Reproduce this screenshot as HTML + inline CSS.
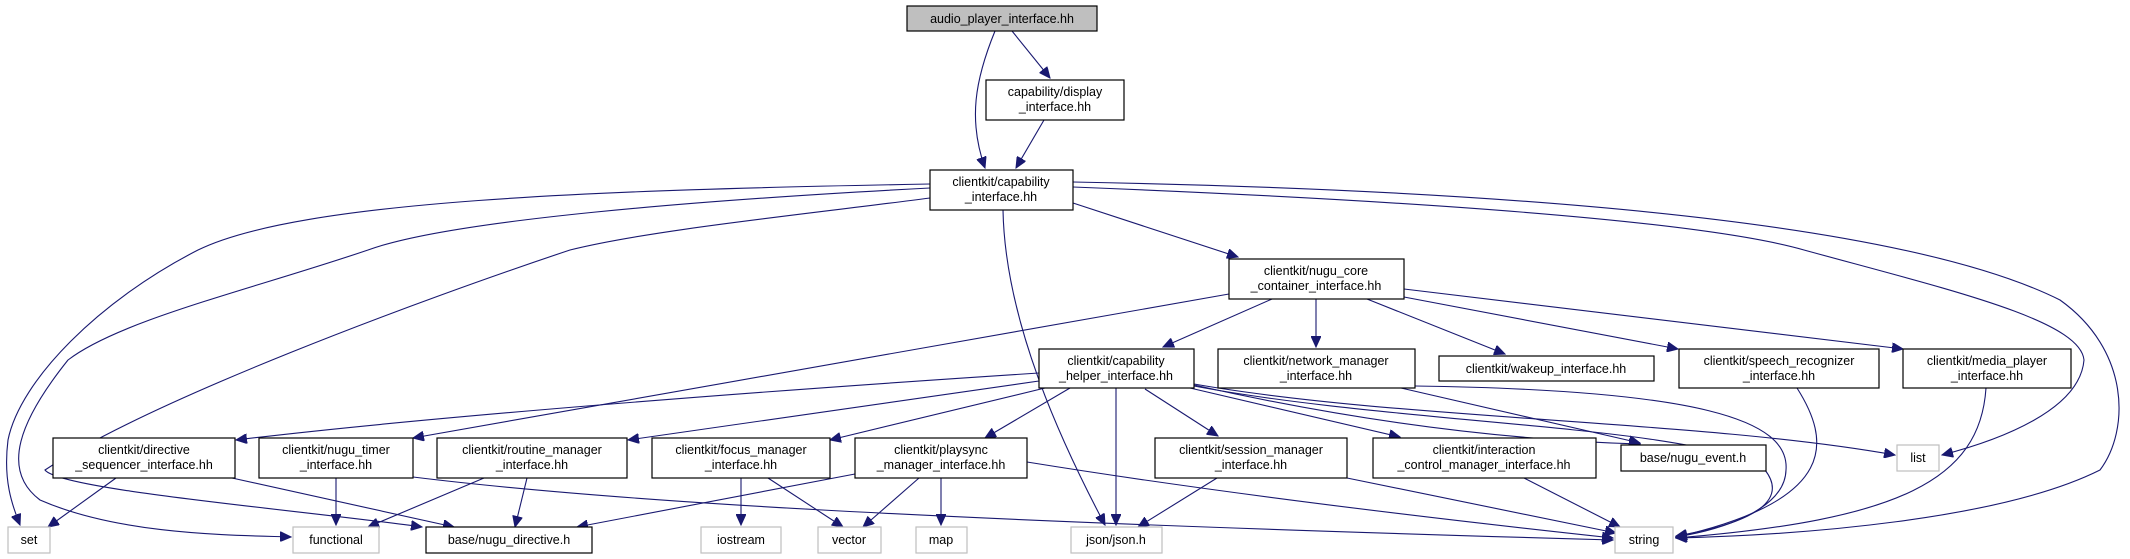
<!DOCTYPE html>
<html><head><meta charset="utf-8"><style>
html,body{margin:0;padding:0;background:#fff;}
svg{display:block;}
text{font-family:"Liberation Sans",sans-serif;font-size:12.5px;fill:#000;text-anchor:middle;}
.n{fill:#fff;stroke:#000;stroke-width:1.2;}
.g{fill:#fff;stroke:#bfbfbf;stroke-width:1.2;}
.e{fill:none;stroke:#191970;stroke-width:1.1;marker-end:url(#a);}
</style></head><body>
<svg width="2130" height="559" viewBox="0 0 2130 559" xmlns="http://www.w3.org/2000/svg">
<defs><marker id="a" markerUnits="userSpaceOnUse" markerWidth="12" markerHeight="10" refX="11" refY="5" orient="auto"><path d="M0,0 L11,5 L0,10 z" fill="#191970" stroke="#191970"/></marker></defs>
<!-- edges -->
<path class="e" d="M1012,31 L1050,78"/>
<path class="e" d="M995,31 C975,80 968,120 985,168"/>
<path class="e" d="M1044,120 L1016,168"/>
<path class="e" d="M1073,203 L1238,257"/>
<path class="e" d="M930,184 C600,190 300,200 198,250 C100,300 20,380 8,440 C3,480 12,505 20,525"/>
<path class="e" d="M930,188 C700,200 450,220 368,250 C250,290 120,320 68,360 C20,420 0,470 40,500 C120,535 230,535 291,537"/>
<path class="e" d="M930,198 C800,215 650,230 570,250 C420,300 150,400 45,470 C60,490 300,510 422,527"/>
<path class="e" d="M1003,210 C1005,320 1060,440 1105,525"/>
<path class="e" d="M1073,187 C1400,200 1700,220 1804,250 C1950,290 2080,320 2084,360 C2080,410 2000,440 1942,455"/>
<path class="e" d="M1073,182 C1500,190 1900,220 2060,300 C2130,350 2130,430 2100,470 C2000,520 1800,535 1676,538"/>
<path class="e" d="M1272,299 L1163,347"/>
<path class="e" d="M1316,299 L1316,347"/>
<path class="e" d="M1367,299 L1505,354"/>
<path class="e" d="M1404,297 L1678,349"/>
<path class="e" d="M1404,289 L1903,349"/>
<path class="e" d="M1229,294 L413,438"/>
<path class="e" d="M1039,373 C700,395 400,420 236,440"/>
<path class="e" d="M1039,381 L628,440"/>
<path class="e" d="M1045,388 L830,440"/>
<path class="e" d="M1070,388 L985,438"/>
<path class="e" d="M1116,388 L1116,525"/>
<path class="e" d="M1145,389 L1218,436"/>
<path class="e" d="M1190,388 L1400,437"/>
<path class="e" d="M1194,385 C1350,420 1500,440 1640,444"/>
<path class="e" d="M1194,384 C1400,420 1700,420 1895,455"/>
<path class="e" d="M1194,386 C1400,425 1700,425 1765,470 C1800,515 1700,532 1676,536"/>
<path class="e" d="M1401,388 L1640,443"/>
<path class="e" d="M1415,386 C1700,390 1790,420 1786,470 C1785,510 1720,530 1676,537"/>
<path class="e" d="M1797,388 C1830,440 1840,500 1676,537"/>
<path class="e" d="M1986,388 C1980,480 1900,520 1676,538"/>
<path class="e" d="M116,478 L48,527"/>
<path class="e" d="M232,478 L454,527"/>
<path class="e" d="M336,478 L336,525"/>
<path class="e" d="M413,477 C600,500 900,520 1613,540"/>
<path class="e" d="M484,478 L368,527"/>
<path class="e" d="M527,478 L515,527"/>
<path class="e" d="M741,478 L741,525"/>
<path class="e" d="M768,478 L843,527"/>
<path class="e" d="M855,474 L577,527"/>
<path class="e" d="M919,478 L863,527"/>
<path class="e" d="M941,478 L941,525"/>
<path class="e" d="M1027,462 C1200,490 1400,515 1613,538"/>
<path class="e" d="M1217,478 L1138,527"/>
<path class="e" d="M1347,478 L1616,533"/>
<path class="e" d="M1524,478 L1620,527"/>
<!-- nodes -->
<rect x="907" y="6" width="190" height="25" fill="#bfbfbf" stroke="#000" stroke-width="1.2"/><text x="1002" y="23">audio_player_interface.hh</text>
<rect class="n" x="986" y="80" width="138" height="40"/><text x="1055" y="96">capability/display</text><text x="1055" y="111">_interface.hh</text>
<rect class="n" x="930" y="170" width="143" height="40"/><text x="1001" y="186">clientkit/capability</text><text x="1001" y="201">_interface.hh</text>
<rect class="n" x="1229" y="259" width="175" height="40"/><text x="1316" y="275">clientkit/nugu_core</text><text x="1316" y="290">_container_interface.hh</text>
<rect class="n" x="1039" y="349" width="155" height="39"/><text x="1116" y="365">clientkit/capability</text><text x="1116" y="380">_helper_interface.hh</text>
<rect class="n" x="1218" y="349" width="197" height="39"/><text x="1316" y="365">clientkit/network_manager</text><text x="1316" y="380">_interface.hh</text>
<rect class="n" x="1439" y="356" width="215" height="25"/><text x="1546" y="373">clientkit/wakeup_interface.hh</text>
<rect class="n" x="1679" y="349" width="200" height="39"/><text x="1779" y="365">clientkit/speech_recognizer</text><text x="1779" y="380">_interface.hh</text>
<rect class="n" x="1903" y="349" width="168" height="39"/><text x="1987" y="365">clientkit/media_player</text><text x="1987" y="380">_interface.hh</text>
<rect class="n" x="53" y="438" width="182" height="40"/><text x="144" y="454">clientkit/directive</text><text x="144" y="469">_sequencer_interface.hh</text>
<rect class="n" x="259" y="438" width="154" height="40"/><text x="336" y="454">clientkit/nugu_timer</text><text x="336" y="469">_interface.hh</text>
<rect class="n" x="437" y="438" width="190" height="40"/><text x="532" y="454">clientkit/routine_manager</text><text x="532" y="469">_interface.hh</text>
<rect class="n" x="652" y="438" width="178" height="40"/><text x="741" y="454">clientkit/focus_manager</text><text x="741" y="469">_interface.hh</text>
<rect class="n" x="855" y="438" width="172" height="40"/><text x="941" y="454">clientkit/playsync</text><text x="941" y="469">_manager_interface.hh</text>
<rect class="n" x="1155" y="438" width="192" height="40"/><text x="1251" y="454">clientkit/session_manager</text><text x="1251" y="469">_interface.hh</text>
<rect class="n" x="1373" y="438" width="223" height="40"/><text x="1484" y="454">clientkit/interaction</text><text x="1484" y="469">_control_manager_interface.hh</text>
<rect class="n" x="1621" y="445" width="145" height="26"/><text x="1693" y="462">base/nugu_event.h</text>
<rect class="g" x="1897" y="445" width="42" height="26"/><text x="1918" y="462">list</text>
<rect class="g" x="8" y="527" width="42" height="26"/><text x="29" y="544">set</text>
<rect class="g" x="293" y="527" width="86" height="26"/><text x="336" y="544">functional</text>
<rect class="n" x="426" y="527" width="166" height="26"/><text x="509" y="544">base/nugu_directive.h</text>
<rect class="g" x="701" y="527" width="80" height="26"/><text x="741" y="544">iostream</text>
<rect class="g" x="818" y="527" width="63" height="26"/><text x="849" y="544">vector</text>
<rect class="g" x="916" y="527" width="51" height="26"/><text x="941" y="544">map</text>
<rect class="g" x="1071" y="527" width="91" height="26"/><text x="1116" y="544">json/json.h</text>
<rect class="g" x="1615" y="527" width="58" height="26"/><text x="1644" y="544">string</text>
</svg>
</body></html>
